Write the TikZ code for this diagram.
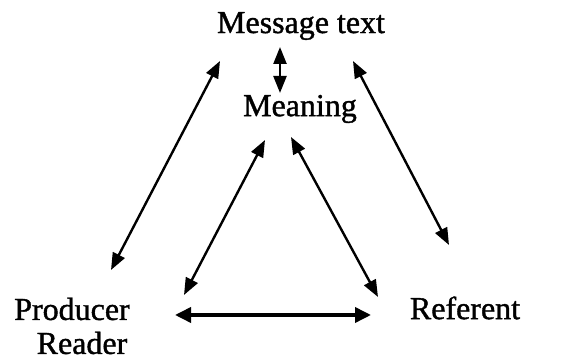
\documentclass[tikz,border=0pt]{standalone}
\usepackage{fontspec}
\setmainfont[FakeBold=1.2]{Liberation Serif}
\usetikzlibrary{arrows.meta}
\tikzset{
  lbl/.style={font=\fontsize{32}{34}\selectfont, inner sep=0pt, align=center},
  link/.style={line width=2.4pt, {Triangle[length=17pt,width=13pt]}-{Triangle[length=17pt,width=13pt]}},
  thicklink/.style={line width=3.6pt, {Triangle[length=16pt,width=15pt]}-{Triangle[length=16pt,width=15pt]}}
}
\begin{document}
\begin{tikzpicture}[x=1pt,y=1pt]
\useasboundingbox (0,0) rectangle (563,363);
\node[lbl] (msg) at (301,337) {Message text};
\node[lbl] (mean) at (300,254) {Meaning};
\node[lbl] (prod) at (72,37) {Producer\\\hspace*{20pt}Reader};
\node[lbl] (ref) at (465,55) {Referent};
% endpoints
\coordinate (m1) at (280,316);
\coordinate (m2) at (280,270);
\coordinate (a1) at (220,302);
\coordinate (a2) at (111,93);
\coordinate (b1) at (265,223);
\coordinate (b2) at (184,68);
\coordinate (c1) at (291,226);
\coordinate (c2) at (378,66);
\coordinate (d1) at (353,302);
\coordinate (d2) at (449,118);
\coordinate (e1) at (175,48);
\coordinate (e2) at (371,48);
\draw[link] (m1) -- (m2);
\draw[link] (a1) -- (a2);
\draw[link] (b1) -- (b2);
\draw[link] (c1) -- (c2);
\draw[link] (d1) -- (d2);
\draw[thicklink] (e1) -- (e2);
\end{tikzpicture}
\end{document}
